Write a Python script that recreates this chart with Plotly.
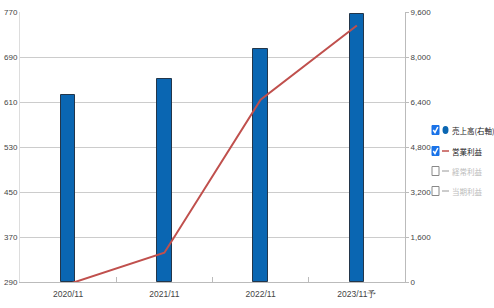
import plotly.graph_objects as go

categories = ["2020/11", "2021/11", "2022/11", "2023/11予"]
sales = [6640, 7230, 8300, 9520]          # 売上高 (right axis)
op_profit = [286, 342, 614, 746]          # 営業利益 (left axis)
legend_names = ["売上高(右軸)", "営業利益", "経常利益", "当期利益"]
legend_active = [True, True, False, False]

W, H = 494, 308
L, R, T, B = 20, 405, 12, 282

def px(x):
    return (x - L) / (R - L)

def py(y):
    return (B - y) / (B - T)

tick_font = dict(family="Liberation Sans, Arial, sans-serif", size=8.5, color="#444444")
ytick_font = dict(family="Liberation Sans, Arial, sans-serif", size=8, color="#444444")

fig = go.Figure()
fig.add_trace(go.Bar(
    x=categories, y=sales, name=legend_names[0], yaxis="y",
    marker=dict(color="#0A66B2", line=dict(color="#23364a", width=1)),
    width=0.15, showlegend=False,
))
fig.add_trace(go.Scatter(
    x=categories, y=op_profit, name=legend_names[1], yaxis="y2",
    mode="lines", line=dict(color="#C0504D", width=2), showlegend=False,
))

fig.update_layout(
    width=W, height=H,
    margin=dict(l=L, r=W - R, t=T, b=H - B, autoexpand=False),
    plot_bgcolor="white", paper_bgcolor="white",
    xaxis=dict(
        type="category", tickfont=tick_font, showgrid=False,
        showline=True, linecolor="#bbbbbb", linewidth=1,
        ticks="inside", tickson="boundaries", ticklen=5, tickcolor="#bbbbbb",
        range=[-0.5, 3.5], automargin=False, ticklabelstandoff=4,
    ),
    yaxis=dict(
        range=[0, 9600], tick0=0, dtick=1600, tickformat=",", side="right",
        tickfont=ytick_font, showgrid=True, gridcolor="#cccccc", gridwidth=1,
        showline=True, linecolor="#bbbbbb", linewidth=1,
        ticks="outside", ticklen=3, tickcolor="#bbbbbb", zeroline=False,
        automargin=False, ticklabelstandoff=0,
    ),
    yaxis2=dict(
        range=[290, 770], tick0=290, dtick=80, side="left", overlaying="y",
        tickfont=ytick_font, showgrid=False, zeroline=False,
        showline=True, linecolor="#dddddd", linewidth=1, ticks="",
        automargin=False,
    ),
    showlegend=False,
    bargap=0,
)

# manual legend with check boxes
rows_y = [130, 151, 171, 191]
shapes = []
annotations = []
for i, (name, active) in enumerate(zip(legend_names, legend_active)):
    cy = rows_y[i]
    if active:
        shapes.append(dict(type="rect", xref="paper", yref="paper",
                           x0=px(432), x1=px(439), y0=py(cy + 4.5), y1=py(cy - 4.5),
                           fillcolor="#1a73e8", line=dict(color="#1a73e8", width=1)))
        shapes.append(dict(type="path", xref="paper", yref="paper",
                           path=f"M {px(433.3)} {py(cy)} L {px(435)} {py(cy + 2.5)} L {px(437.8)} {py(cy - 3)}",
                           line=dict(color="white", width=1.5)))
    else:
        shapes.append(dict(type="rect", xref="paper", yref="paper",
                           x0=px(432), x1=px(439), y0=py(cy + 4.5), y1=py(cy - 4.5),
                           fillcolor="white", line=dict(color="#888888", width=1)))
    if i == 0:
        shapes.append(dict(type="circle", xref="paper", yref="paper",
                           x0=px(442.5), x1=px(448.5), y0=py(cy + 4), y1=py(cy - 4),
                           fillcolor="#0A66B2", line=dict(color="#0A66B2", width=0)))
    else:
        col = "#C0504D" if active else "#bbbbbb"
        shapes.append(dict(type="line", xref="paper", yref="paper",
                           x0=px(442), x1=px(449), y0=py(cy), y1=py(cy),
                           line=dict(color=col, width=1.5)))
    annotations.append(dict(
        text=name, xref="paper", yref="paper", x=px(450), y=py(cy),
        xanchor="left", yanchor="middle", showarrow=False,
        font=dict(family="Noto Sans CJK JP, sans-serif", size=7.5,
                  color="#222222" if active else "#bbbbbb"),
    ))

fig.update_layout(shapes=shapes, annotations=annotations)
fig.write_html("out.html")
